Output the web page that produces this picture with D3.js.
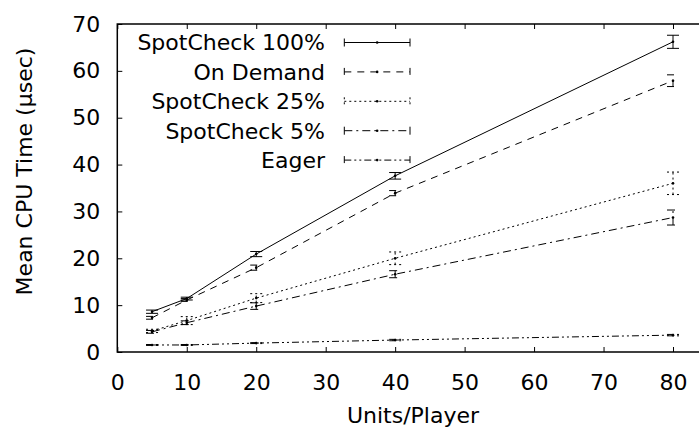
<!DOCTYPE html>
<html>
<head>
<meta charset="utf-8">
<script src="https://cdn.jsdelivr.net/npm/d3@7/dist/d3.min.js"></script>
<style>
  html, body { margin: 0; padding: 0; background: #fff; }
  svg { display: block; font-family: "DejaVu Sans", sans-serif; }
</style>
</head>
<body>
<svg id="chart" width="699" height="437"></svg>
<script>
// Units per player (x values)
const units = [5, 10, 20, 40, 80];

// Mean CPU time per series (µsec) and error-bar half widths
const spot100 = [8.6, 11.4, 20.9, 37.6, 66.2];
const spot100Err = [0.35, 0.3, 0.55, 0.7, 1.4];
const onDemand = [7.3, 11.1, 18.0, 33.9, 57.9];
const onDemandErr = [0.3, 0.3, 0.55, 0.55, 1.25];
const spot25 = [4.5, 6.7, 11.5, 20.0, 36.0];
const spot25Err = [0.35, 0.85, 0.95, 1.35, 2.4];
const spot5 = [4.3, 6.25, 9.8, 16.6, 28.7];
const spot5Err = [0.3, 0.4, 0.7, 0.75, 1.6];
const eager = [1.5, 1.5, 1.9, 2.55, 3.6];
const eagerErr = [0.1, 0.1, 0.1, 0.15, 0.15];

const seriesNames = ["SpotCheck 100%", "On Demand", "SpotCheck 25%", "SpotCheck 5%", "Eager"];
const xTicks = [0, 10, 20, 30, 40, 50, 60, 70, 80];
const yTicks = [0, 10, 20, 30, 40, 50, 60, 70];

const series = [
  { name: seriesNames[0], values: spot100, err: spot100Err, dash: null },
  { name: seriesNames[1], values: onDemand, err: onDemandErr, dash: "7,6" },
  { name: seriesNames[2], values: spot25, err: spot25Err, dash: "2,3" },
  { name: seriesNames[3], values: spot5, err: spot5Err, dash: "8,4,2,4" },
  { name: seriesNames[4], values: eager, err: eagerErr, dash: "7,3,2,3,2,3" }
];

const svg = d3.select("#chart");
const FONT = 22;

const x = d3.scaleLinear().domain([0, 80]).range([117.3, 673]);
const y = d3.scaleLinear().domain([0, 70]).range([352, 24]);
const xRight = x(90); // the frame runs past the right edge of the canvas

// Axes with inward ticks
const gx = svg.append("g").attr("transform", `translate(0,${y(0)})`)
  .call(d3.axisBottom(x).tickValues(xTicks).tickSize(-5).tickPadding(22).tickFormat(d3.format("d")));
const gxTop = svg.append("g").attr("transform", `translate(0,${y(70)})`)
  .call(d3.axisTop(x).tickValues(xTicks).tickSize(-5).tickFormat(""));
const gy = svg.append("g").attr("transform", `translate(${x(0)},0)`)
  .call(d3.axisLeft(y).tickValues(yTicks).tickSize(-5).tickPadding(17).tickFormat(d3.format("d")));

[gx, gxTop, gy].forEach(g => {
  g.select(".domain").remove();
  g.selectAll(".tick line").attr("stroke", "#000").attr("stroke-width", 1);
  g.selectAll("text").attr("font-size", FONT).attr("fill", "#000")
    .attr("font-family", "DejaVu Sans, sans-serif");
});

// Plot frame
svg.append("path")
  .attr("d", `M${xRight},${y(70)}H${x(0)}V${y(0)}H${xRight}`)
  .attr("fill", "none").attr("stroke", "#000").attr("stroke-width", 1.5);

// Axis titles
svg.append("text")
  .attr("x", 413).attr("y", 423)
  .attr("text-anchor", "middle").attr("font-size", FONT).attr("fill", "#000")
  .text("Units/Player");
svg.append("text")
  .attr("transform", "translate(32,171.5) rotate(-90)")
  .attr("text-anchor", "middle").attr("font-size", FONT).attr("fill", "#000")
  .text("Mean CPU Time (µsec)");

const line = d3.line().x(d => x(d.u)).y(d => y(d.v));
const CAP = 6;

series.forEach(s => {
  const pts = units.map((u, i) => ({ u, v: s.values[i], e: s.err[i] }));
  const g = svg.append("g")
    .attr("fill", "none").attr("stroke", "#000").attr("stroke-width", 1)
    .attr("stroke-dasharray", s.dash);

  g.append("path").attr("d", line(pts));

  // error bars with caps
  pts.forEach(p => {
    const cx = x(p.u), y1 = y(p.v + p.e), y0 = y(p.v - p.e);
    g.append("path").attr("d",
      `M${cx},${y0}V${y1}M${cx - CAP},${y1}H${cx + CAP}M${cx - CAP},${y0}H${cx + CAP}`);
  });

  // point markers
  svg.append("g").selectAll("circle").data(pts).join("circle")
    .attr("cx", d => x(d.u)).attr("cy", d => y(d.v)).attr("r", 1.3).attr("fill", "#000");
});

// Legend
const legX0 = 344.3, legX1 = 410, legTextX = 325, legY0 = 42.5, legStep = 29.4;
series.forEach((s, i) => {
  const ly = legY0 + i * legStep;
  svg.append("text")
    .attr("x", legTextX).attr("y", ly).attr("dy", "0.36em")
    .attr("text-anchor", "end").attr("font-size", FONT).attr("fill", "#000")
    .text(s.name);
  svg.append("path")
    .attr("d", `M${legX0},${ly}H${legX1}M${legX0},${ly - 4}V${ly + 4}M${legX1},${ly - 4}V${ly + 4}`)
    .attr("fill", "none").attr("stroke", "#000").attr("stroke-width", 1)
    .attr("stroke-dasharray", s.dash);
  svg.append("circle")
    .attr("cx", (legX0 + legX1) / 2).attr("cy", ly).attr("r", 1.3).attr("fill", "#000");
});
</script>
</body>
</html>
